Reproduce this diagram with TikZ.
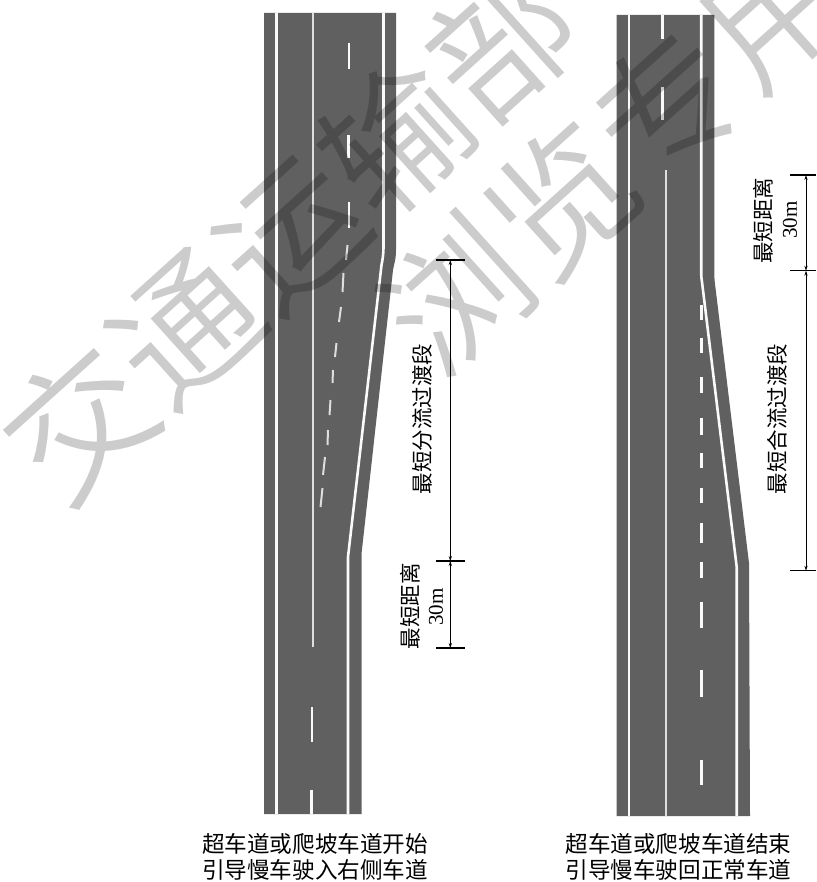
\documentclass[tikz,border=0pt]{standalone}
\usepackage{fontspec}
\setmainfont{Liberation Serif}
\newfontfamily\cjk{Noto Sans CJK SC}
\newfontfamily\wmfont{Noto Sans CJK SC DemiLight}
\usetikzlibrary{arrows.meta}
\definecolor{roadcolor}{RGB}{96,96,96}
\definecolor{linecolor}{RGB}{250,250,250}
\definecolor{midcolor}{RGB}{222,222,222}

\begin{document}
\begin{tikzpicture}[%
    x=1pt, y=-1pt,              % Coordinates are pixels of the page
    >={Stealth[length=5pt,width=3.2pt]},
    ]
\tikzset{
  road/.style={fill=roadcolor, draw=none},
  edgeline/.style={draw=linecolor, line width=2.6pt},
  midline/.style={draw=midcolor, line width=2.2pt},
  dashline/.style={draw=linecolor, line width=2.6pt},
  thindash/.style={draw=midcolor, line width=2pt},
  dimline/.style={draw=black, line width=0.9pt, <->},
  dimtick/.style={draw=black, line width=1.4pt},
  lenlabel/.style={font=\cjk\fontsize{21.5}{24}\selectfont, inner sep=0pt, rotate=90},
  lennum/.style={font=\fontsize{21}{24}\selectfont, inner sep=0pt, rotate=90},
  capt/.style={font=\cjk\fontsize{22.6}{26}\selectfont, inner sep=0pt, align=center},
  wmark/.style={font=\wmfont\fontsize{142}{142}\selectfont, inner sep=0pt, rotate=42,
    text=black, text opacity=0.2},
}
\useasboundingbox (0,0) rectangle (816,882);

% left road
\fill [road] (264,13) -- (396,13) -- (396,250) .. controls (396,260) and (394,264) .. (393,270)
  -- (361.7,552) -- (361.7,814) -- (264,814) -- cycle;
\draw [edgeline] (276.7,13) -- (276.7,814);
\draw [midline] (313,13) -- (313,647);
\draw [edgeline] (383.5,13) -- (383.5,245) .. controls (383.5,255) and (382.5,260) .. (381.5,265)
  -- (348,557) -- (348,814);
\foreach \xa/\ya/\xb/\yb in {349/43/349/69, 348.5/135/348.5/158, 349/202/349/228,
    312/707/312/742, 311.5/790/311.5/814} {
  \draw [dashline] (\xa,\ya) -- (\xb,\yb);
}
\foreach \xa/\ya/\xb/\yb in {347.5/245/346/260, 343.5/273/342.5/292, 341/307/339/322,
    336.5/343/335/357, 333/370/332.5/383, 330.5/400/329.5/415, 328/430/327.5/445,
    325/457/323/475, 322.5/488/320.5/507} {
  \draw [thindash] (\xa,\ya) -- (\xb,\yb);
}

% right road
\fill [road] (616.7,15) -- (714.3,15) -- (714.3,272) .. controls (714.3,278) and (714.6,282) .. (715.5,288)
  -- (749,563) -- (750,816) -- (616.7,816) -- cycle;
\draw [edgeline] (629,15) -- (629,816);
\draw [midline] (665.7,170) -- (665.7,816);
\draw [edgeline] (701.2,15) -- (701.2,272) .. controls (701.2,276) and (701.4,279) .. (702,282)
  -- (736.7,567) -- (736.7,816);
\foreach \ya/\yb in {15/39, 87/120} {
  \draw [dashline] (662.7,\ya) -- (662.7,\yb);
}
\foreach \ya/\yb in {305/320, 338/353, 377/393, 418/435, 453/468, 488/503, 523/543,
    562/578, 602/628, 670/697, 760/785} {
  \draw [dashline] (701.5,\ya) -- (701.5,\yb);
}

% dimensions
\coordinate (d1) at (450.3,260);
\coordinate (d2) at (450.3,561);
\coordinate (d3) at (450.3,648);
\coordinate (d4) at (806,175);
\coordinate (d5) at (806,270.7);
\coordinate (d6) at (806,570.7);
\draw [dimline] (d1) -- (d2);
\draw [dimline] (d2) -- (d3);
\draw [dimline] (d4) -- (d5);
\draw [dimline] (d5) -- (d6);
\foreach \p in {d1,d2,d3} {
  \draw [dimtick] ([xshift=-14pt]\p) -- ([xshift=15pt]\p);
}
\foreach \p in {d4,d5,d6} {
  \draw [dimtick] ([xshift=-16pt]\p) -- ([xshift=10pt]\p);
}

% labels
\node [lenlabel] (splitlen) at (422,419) {最短分流过渡段};
\node [lenlabel] (leftmin) at (410,606) {最短距离};
\node [lennum] (leftnum) at (436,607) {30m};
\node [lenlabel] (rightmin) at (763,221) {最短距离};
\node [lennum] (rightnum) at (790,220) {30m};
\node [lenlabel] (mergelen) at (777,419) {最短合流过渡段};
\node [capt] (leftcap) at (315,857) {超车道或爬坡车道开始\\引导慢车驶入右侧车道};
\node [capt] (rightcap) at (678.5,857) {超车道或爬坡车道结束\\引导慢车驶回正常车道};

% watermark
\node [wmark] (wm1) at (290,233) {交通运输部};
\node [wmark] (wm2) at (615,153) {浏览专用};
\end{tikzpicture}
\end{document}
